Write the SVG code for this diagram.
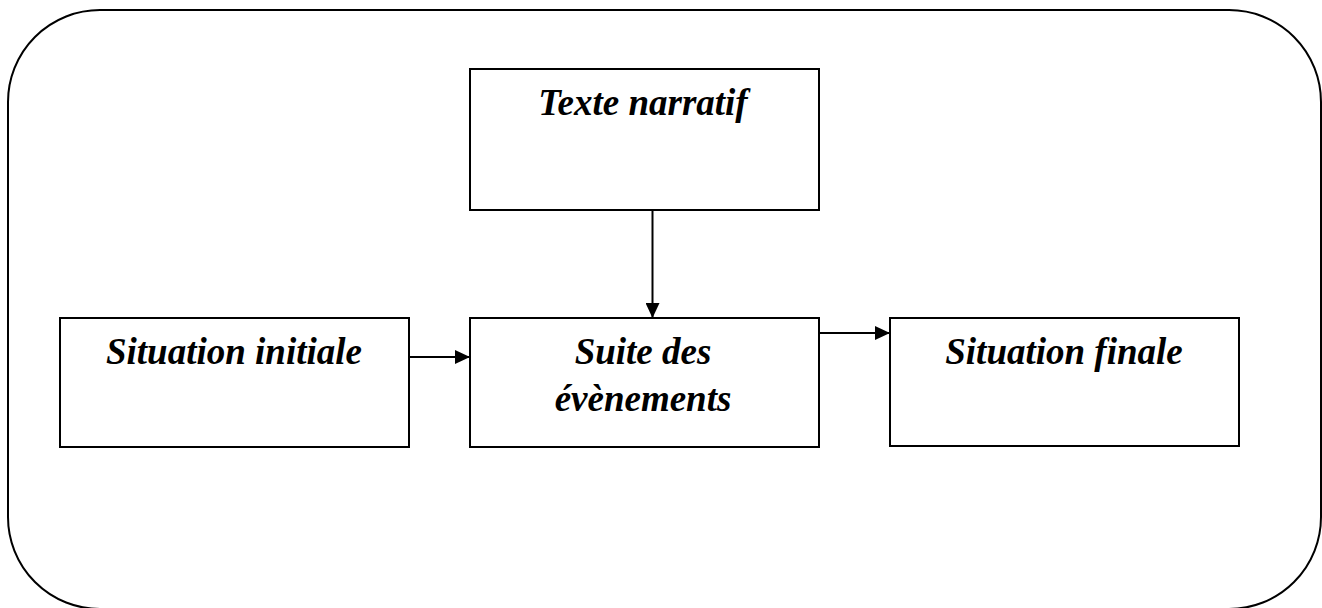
<svg xmlns="http://www.w3.org/2000/svg" width="1322" height="608" viewBox="0 0 1322 608">
<style>
.box{fill:#fff;stroke:#000;stroke-width:2}
.frame{fill:none;stroke:#000;stroke-width:2}
.lbl{font-family:"Liberation Serif","Times New Roman",serif;font-weight:bold;font-style:italic;font-size:37px;fill:#000;text-anchor:middle}
.conn{stroke:#000;stroke-width:2;fill:none;marker-end:url(#ah)}
</style>
<defs>
<marker id="ah" viewBox="0 0 15 14" refX="15" refY="7" markerWidth="15" markerHeight="14" markerUnits="userSpaceOnUse" orient="auto">
<path d="M0,0 L15,7 L0,14 Z" fill="#000"/>
</marker>
</defs>
<rect class="frame" x="8" y="10" width="1313" height="599" rx="92" ry="92"/>
<g id="connectors">
<line class="conn" x1="652.5" y1="210" x2="652.5" y2="318"/>
<line class="conn" x1="409" y1="357" x2="470" y2="357"/>
<line class="conn" x1="819" y1="333" x2="890" y2="333"/>
</g>
<g id="texte-narratif">
<rect class="box" x="470" y="69" width="349" height="141"/>
<text class="lbl" x="643" y="115">Texte narratif</text>
</g>
<g id="situation-initiale">
<rect class="box" x="60" y="318" width="349" height="129"/>
<text class="lbl" x="234" y="364">Situation initiale</text>
</g>
<g id="suite-evenements">
<rect class="box" x="470" y="318" width="349" height="129"/>
<text class="lbl" x="643" y="364">Suite des</text>
<text class="lbl" x="643" y="411">évènements</text>
</g>
<g id="situation-finale">
<rect class="box" x="890" y="318" width="349" height="128"/>
<text class="lbl" x="1064" y="364">Situation finale</text>
</g>
</svg>
